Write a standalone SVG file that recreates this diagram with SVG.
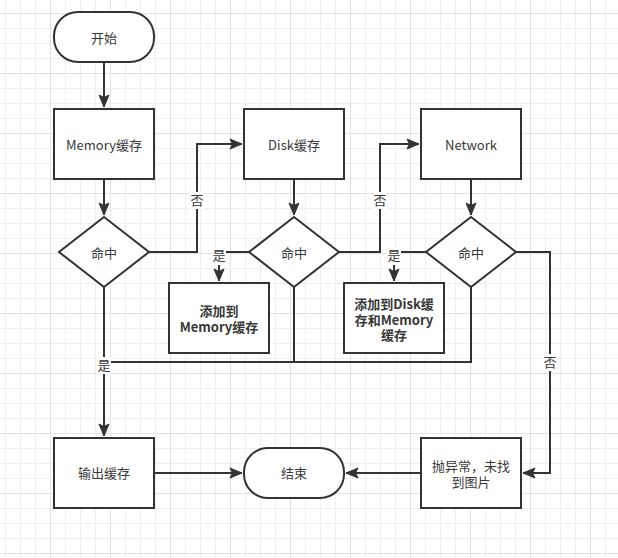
<svg xmlns="http://www.w3.org/2000/svg" width="618" height="558" viewBox="0 0 618 558">
<defs>
<pattern id="minor" width="15" height="15" patternUnits="userSpaceOnUse" x="5" y="13">
<rect x="0" y="0" width="15" height="1" fill="#efefef"/>
<rect x="0" y="0" width="1" height="15" fill="#efefef"/>
</pattern>
<pattern id="major" width="60" height="60" patternUnits="userSpaceOnUse" x="50" y="13">
<rect x="0" y="0" width="60" height="1" fill="#e2e2e2"/>
<rect x="0" y="0" width="1" height="60" fill="#e2e2e2"/>
</pattern>
<marker id="arr" markerUnits="userSpaceOnUse" markerWidth="14" markerHeight="12" viewBox="-13 -6 14 12" refX="0" refY="0" orient="auto">
<path d="M0,0 L-12,-5 L-9.5,0 L-12,5 Z" fill="#333" stroke="#333" stroke-width="1" stroke-linejoin="miter"/>
</marker>
<style>
.shape{fill:#fff;stroke:#333;stroke-width:2}
.t{font-family:"Noto Sans CJK SC","Noto Sans",sans-serif;font-size:13px;fill:#383838;text-anchor:middle}
.b{font-weight:bold}
.line{fill:none;stroke:#333;stroke-width:2}
.lbl{fill:#fff}
</style>
</defs>
<rect width="618" height="558" fill="#fff"/>
<rect width="618" height="558" fill="url(#minor)"/>
<rect width="618" height="558" fill="url(#major)"/>

<g id="connectors">
<path class="line" d="M104,62 V107" marker-end="url(#arr)"/>
<path class="line" d="M104,179 V215" marker-end="url(#arr)"/>
<path class="line" d="M149,252 H197 V144 H242" marker-end="url(#arr)"/>
<path class="line" d="M249,252 H219 V281" marker-end="url(#arr)"/>
<path class="line" d="M294,179 V215" marker-end="url(#arr)"/>
<path class="line" d="M339,252 H380 V144 H419" marker-end="url(#arr)"/>
<path class="line" d="M426,252 H394 V281" marker-end="url(#arr)"/>
<path class="line" d="M471,179 V215" marker-end="url(#arr)"/>
<path class="line" d="M516,252 H550 V473 H523" marker-end="url(#arr)"/>
<path class="line" d="M104,287 V436" marker-end="url(#arr)"/>
<path class="line" d="M294,287 V362 H104"/>
<path class="line" d="M471,287 V362 H294"/>
<path class="line" d="M154,473 H242" marker-end="url(#arr)"/>
<path class="line" d="M421,473 H346" marker-end="url(#arr)"/>
<rect class="lbl" x="190" y="192" width="14" height="17"/>
<text class="t" x="197" y="205">否</text>
<rect class="lbl" x="212" y="248" width="14" height="17"/>
<text class="t" x="219" y="260">是</text>
<rect class="lbl" x="373" y="192" width="14" height="17"/>
<text class="t" x="380" y="205">否</text>
<rect class="lbl" x="387" y="248" width="14" height="17"/>
<text class="t" x="394" y="260">是</text>
<rect class="lbl" x="543" y="354" width="14" height="17"/>
<text class="t" x="550" y="366.5">否</text>
<rect class="lbl" x="97" y="357" width="14" height="17"/>
<text class="t" x="104" y="369.5">是</text>
</g>

<g id="start">
<rect class="shape" x="54" y="12" width="100" height="50" rx="24" ry="24"/>
<text class="t" x="104" y="43">开始</text>
</g>
<g id="memory">
<rect class="shape" x="54" y="109" width="100" height="70"/>
<text class="t" x="104" y="150">Memory缓存</text>
</g>
<g id="disk">
<rect class="shape" x="244" y="109" width="100" height="70"/>
<text class="t" x="294" y="150">Disk缓存</text>
</g>
<g id="network">
<rect class="shape" x="421" y="109" width="100" height="70"/>
<text class="t" x="471" y="150">Network</text>
</g>
<g id="hit1">
<polygon class="shape" points="104,217 149,252 104,287 59,252"/>
<text class="t" x="104" y="257.5">命中</text>
</g>
<g id="hit2">
<polygon class="shape" points="294,217 339,252 294,287 249,252"/>
<text class="t" x="294" y="257.5">命中</text>
</g>
<g id="hit3">
<polygon class="shape" points="471,217 516,252 471,287 426,252"/>
<text class="t" x="471" y="257.5">命中</text>
</g>
<g id="addMemory">
<rect class="shape" x="169" y="283" width="100" height="70"/>
<text class="t b" x="219" y="316"><tspan x="219">添加到</tspan><tspan x="219" dy="16">Memory缓存</tspan></text>
</g>
<g id="addDisk">
<rect class="shape" x="344" y="283" width="100" height="70"/>
<text class="t b" x="394" y="308.5"><tspan x="394">添加到Disk缓</tspan><tspan x="394" dy="16">存和Memory</tspan><tspan x="394" dy="15.5">缓存</tspan></text>
</g>
<g id="output">
<rect class="shape" x="54" y="438" width="100" height="70"/>
<text class="t" x="104" y="478">输出缓存</text>
</g>
<g id="end">
<rect class="shape" x="244" y="448" width="100" height="50" rx="24" ry="24"/>
<text class="t" x="294" y="478">结束</text>
</g>
<g id="error">
<rect class="shape" x="421" y="438" width="100" height="70"/>
<text class="t" x="471" y="470.5"><tspan x="471">抛异常，未找</tspan><tspan x="471" dy="16">到图片</tspan></text>
</g>
</svg>
